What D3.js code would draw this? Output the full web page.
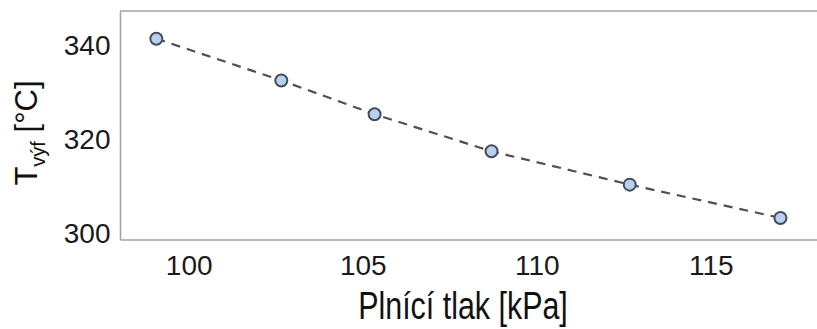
<!DOCTYPE html>
<html>
<head>
<meta charset="utf-8">
<script src="https://cdn.jsdelivr.net/npm/d3@7/dist/d3.min.js"></script>
<style>
  body { margin: 0; background: #fff; }
  svg { display: block; font-family: "Liberation Sans", Arial, sans-serif; }
</style>
</head>
<body>
<svg id="chart" width="817" height="329"></svg>
<script>
// values
const pressure = [99.07, 102.66, 105.34, 108.70, 112.67, 117.0];   // kPa
const temperature = [341.4, 332.5, 325.3, 317.4, 310.3, 303.2];    // °C
const xTicks = [100, 105, 110, 115];
const yTicks = [300, 320, 340];

const svg = d3.select('#chart');
const plotLeft = 120.5, plotRight = 817, plotTop = 11, plotBottom = 240;

const x = d3.scaleLinear().domain([98.04, 118.05]).range([plotLeft, plotRight]);
const y = d3.scaleLinear().domain([298.5, 347.3]).range([plotBottom, plotTop]);

const points = pressure.map((p, i) => ({p: p, t: temperature[i]}));

// frame: left, bottom, top (no right side)
const frame = svg.append('g')
  .attr('stroke', '#a3a3a3')
  .attr('stroke-width', 1.6)
  .attr('fill', 'none');
frame.append('line').attr('x1', plotLeft).attr('x2', plotRight).attr('y1', plotTop).attr('y2', plotTop);
frame.append('line').attr('x1', plotLeft).attr('x2', plotRight).attr('y1', plotBottom).attr('y2', plotBottom);
frame.append('line').attr('x1', plotLeft).attr('x2', plotLeft).attr('y1', plotTop).attr('y2', plotBottom);

// axes, only the labels are shown
const xAxis = svg.append('g')
  .attr('transform', `translate(0,${plotBottom})`)
  .call(d3.axisBottom(x).tickValues(xTicks).tickSize(0).tickPadding(0));
xAxis.select('.domain').remove();
xAxis.selectAll('text')
  .attr('dy', null)
  .attr('y', 35)
  .attr('fill', '#1a1a1a')
  .style('font-size', '28px')
  .style('font-family', '"Liberation Sans", Arial, sans-serif');

const yAxis = svg.append('g')
  .attr('transform', `translate(${plotLeft},0)`)
  .call(d3.axisLeft(y).tickValues(yTicks).tickSize(0).tickPadding(10));
yAxis.select('.domain').remove();
yAxis.selectAll('text')
  .attr('dy', '0.33em')
  .attr('fill', '#1a1a1a')
  .style('font-size', '28px')
  .style('font-family', '"Liberation Sans", Arial, sans-serif');

// dashed line through the points
const line = d3.line().x((d) => x(d.p)).y((d) => y(d.t));
svg.append('path')
  .datum(points)
  .attr('d', line)
  .attr('fill', 'none')
  .attr('stroke', '#4f4f4f')
  .attr('stroke-width', 2.2)
  .attr('stroke-dasharray', '9,7');

svg.append('g')
  .selectAll('circle')
  .data(points)
  .enter().append('circle')
  .attr('cx', (d) => x(d.p))
  .attr('cy', (d) => y(d.t))
  .attr('r', 6)
  .attr('fill', '#b9cff0')
  .attr('stroke', '#454c58')
  .attr('stroke-width', 2);

// x title, narrow look
svg.append('text')
  .attr('transform', 'translate(463,319) scale(0.78,1)')
  .attr('text-anchor', 'middle')
  .attr('fill', '#111')
  .style('font-size', '39px')
  .text('Plnící tlak [kPa]');

// y title with subscript
const yt = svg.append('text')
  .attr('transform', 'translate(37,133) rotate(-90)')
  .attr('text-anchor', 'middle')
  .attr('fill', '#111')
  .style('font-size', '31px');
yt.append('tspan').text('T');
yt.append('tspan').attr('dy', 8).style('font-size', '20px').text('výf');
yt.append('tspan').attr('dy', -8).text(' [°C]');
</script>
</body>
</html>
